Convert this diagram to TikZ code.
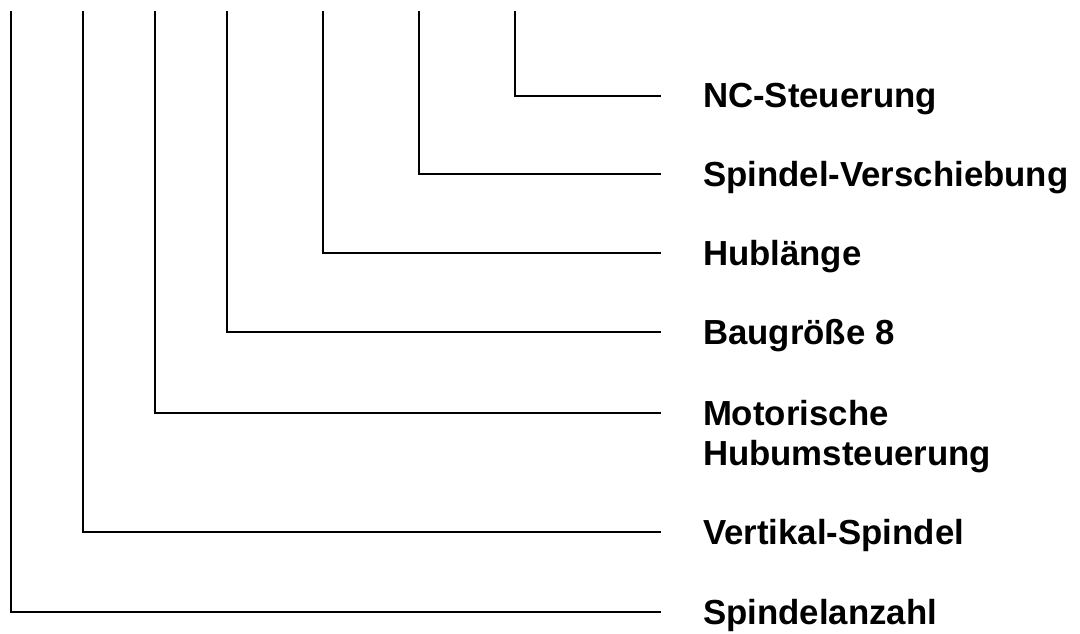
\documentclass[tikz,border=0pt]{standalone}
\usepackage{fontspec}
\setmainfont{Liberation Sans}
\begin{document}
\begin{tikzpicture}[x=1pt,y=1pt,
  conn/.style={draw=black,line width=1.8pt,line cap=rect},
  lbl/.style={anchor=north west,inner sep=0pt,outer sep=0pt,align=left,
    font=\fontsize{34.8}{40}\selectfont\bfseries}]
\useasboundingbox[fill=white] (0,0) rectangle (1080,-633);
% top coordinates
\coordinate (t1) at (515,-12);
\coordinate (t2) at (419,-12);
\coordinate (t3) at (323,-12);
\coordinate (t4) at (227,-12);
\coordinate (t5) at (155,-12);
\coordinate (t6) at (83,-12);
\coordinate (t7) at (11,-12);
% end coordinates
\coordinate (e1) at (660,-96);
\coordinate (e2) at (660,-174);
\coordinate (e3) at (660,-253);
\coordinate (e4) at (660,-332);
\coordinate (e5) at (660,-413);
\coordinate (e6) at (660,-532);
\coordinate (e7) at (660,-612);
% connectors
\draw[conn] (t1) |- (e1);
\draw[conn] (t2) |- (e2);
\draw[conn] (t3) |- (e3);
\draw[conn] (t4) |- (e4);
\draw[conn] (t5) |- (e5);
\draw[conn] (t6) |- (e6);
\draw[conn] (t7) |- (e7);
% labels
\node[lbl] (l1) at (703,-83) {NC-Steuerung};
\node[lbl] (l2) at (703,-161) {Spindel-Verschiebung};
\node[lbl] (l3) at (703,-240) {Hublänge};
\node[lbl] (l4) at (703,-319) {Baugröße 8};
\node[lbl] (l5) at (703,-400) {Motorische\\Hubumsteuerung};
\node[lbl] (l6) at (703,-519) {Vertikal-Spindel};
\node[lbl] (l7) at (703,-599) {Spindelanzahl};
\end{tikzpicture}
\end{document}
